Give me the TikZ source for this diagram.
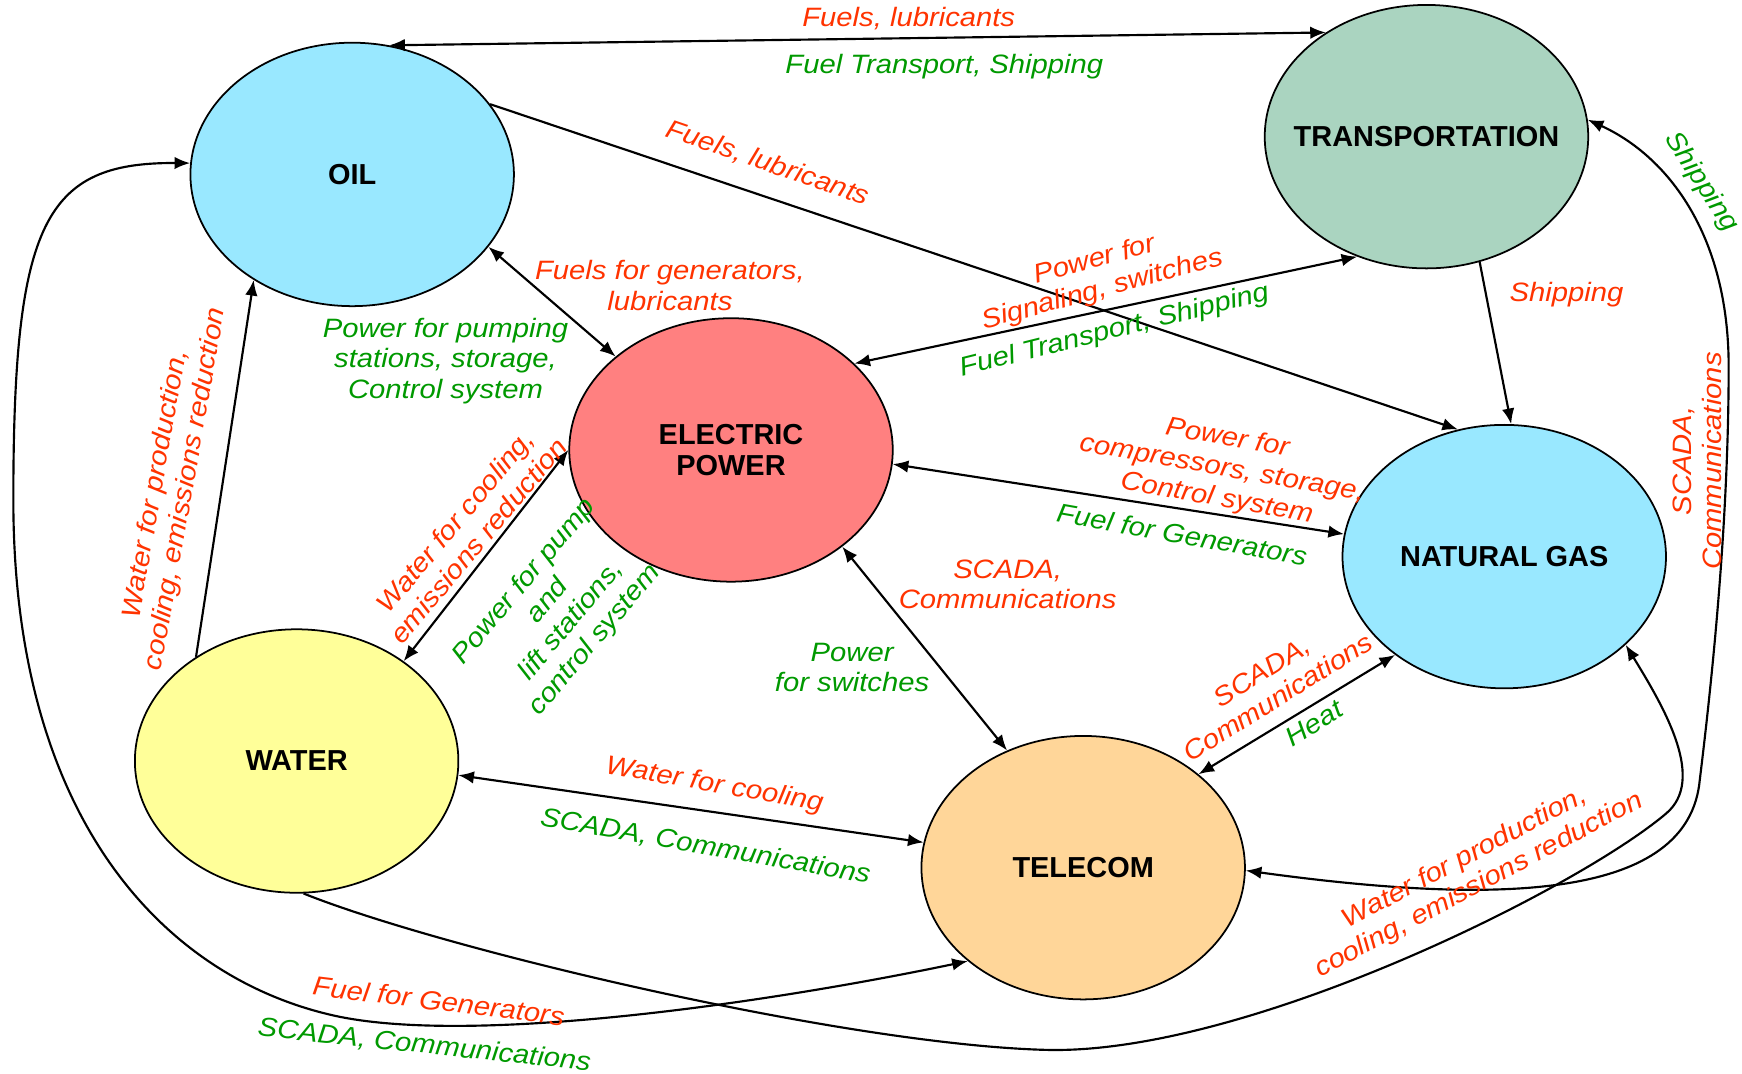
\documentclass[tikz,border=0pt]{standalone}
\usepackage{fontspec}
\setmainfont{Liberation Sans}
\usetikzlibrary{shapes.geometric,arrows.meta}

\definecolor{oilblue}{RGB}{153,232,255}
\definecolor{transgreen}{RGB}{170,212,192}
\definecolor{powerred}{RGB}{255,128,128}
\definecolor{wateryellow}{RGB}{255,255,153}
\definecolor{telecomorange}{RGB}{255,214,153}
\definecolor{labred}{RGB}{255,51,0}
\definecolor{labgreen}{RGB}{0,153,0}

\tikzset{
  sector/.style={ellipse, draw, line width=0.45pt, minimum width=2.91cm, minimum height=2.37cm,
    inner sep=0pt, align=center, font=\fontsize{7.4}{8}\selectfont\bfseries},
  redlab/.style={text=labred, inner sep=0pt, align=center, xscale=1.1,
    font=\fontsize{6.8}{7.8}\selectfont\itshape},
  greenlab/.style={redlab, text=labgreen},
}

\begin{document}
\begin{tikzpicture}[x=0.01cm, y=-0.01cm, line width=0.55pt, >={Latex[length=4pt,width=3.2pt]}]
\useasboundingbox (0,0) rectangle (1568,966);

\node[sector, fill=oilblue] (oil) at (317,157) {OIL};
\node[sector, fill=transgreen] (trans) at (1284,123) {\makebox[0pt]{TRANSPORTATION}};
\node[sector, fill=powerred] (power) at (658,405) {ELECTRIC\\POWER};
\node[sector, fill=oilblue] (gas) at (1354,501) {\makebox[0pt]{NATURAL GAS}};
\node[sector, fill=wateryellow] (water) at (267,685) {WATER};
\node[sector, fill=telecomorange] (telecom) at (975,781) {TELECOM};

\draw [<->] (oil.74) -- (trans.134);
\draw [->] (oil.27) -- (gas.110);
\draw [<->] (oil.-28) -- (power.141);
\draw [<->] (power.35) -- (trans.240);
\draw [->] (trans.293) -- (gas.87);
\draw [->] (water.134) -- (oil.227);
\draw [<->] (water.43) -- (power.180);
\draw [<->] (power.-5) -- (gas.172);
\draw [<->] (power.-41) -- (telecom.123);
\draw [<->] (water.-5) -- (telecom.171);
\draw [<->] (telecom.39) -- (gas.222);

\draw [<->] (telecom.-1) .. controls (1350,815) and (1520,810) .. (1530,702)
  .. controls (1545,580) and (1556,450) .. (1556,330)
  .. controls (1556,210) and (1500,140) .. (trans.6);
\draw [->] (water.-87) .. controls (400,855) and (760,940) .. (941,945)
  .. controls (1120,950) and (1420,800) .. (1500,732)
  .. controls (1535,702) and (1500,640) .. (gas.-36);
\draw [<->] (oil.176) .. controls (40,146) and (12,200) .. (12,450)
  .. controls (12,740) and (150,880) .. (300,914)
  .. controls (420,941) and (680,905) .. (telecom.219);

\node[redlab] (t1) at (818,17) {Fuels, lubricants};
\node[greenlab] (t2) at (850,60) {Fuel Transport, Shipping};
\node[rotate=-19, redlab] (t3) at (691,147) {Fuels, lubricants};
\node[redlab] (t4) at (603,257) {Fuels for generators,\\lubricants};
\node[greenlab] (t5) at (401,325) {Power for pumping\\stations, storage,\\Control system};
\node[rotate=15, redlab] (t6) at (989,248) {Power for\\Signaling, switches};
\node[rotate=14, greenlab] (t7) at (1003,298) {Fuel Transport, Shipping};
\node[redlab] (t8) at (1410,265) {Shipping};
\node[rotate=-57, greenlab] (t9) at (1531,164) {Shipping};
\node[rotate=90, redlab] (t10) at (1528,415) {SCADA,\\Communications};
\node[rotate=80, redlab] (t11) at (154,438) {Water for production,\\cooling, emissions reduction};
\node[rotate=50, redlab] (t12) at (420,478) {Water for cooling,\\emissions reduction};
\node[rotate=50, greenlab] (t13) at (504,550) {Power for pump\\and\\lift stations,\\control system};
\node[rotate=-10, redlab] (t14) at (1100,422) {Power for\\compressors, storage,\\Control system};
\node[rotate=-10, greenlab] (t15) at (1064,481) {Fuel for Generators};
\node[redlab] (t16) at (907,526) {SCADA,\\Communications};
\node[greenlab] (t17) at (767,601) {Power\\for switches};
\node[rotate=-10, redlab] (t18) at (643,707) {Water for cooling};
\node[rotate=-10, greenlab] (t19) at (635,762) {SCADA, Communications};
\node[rotate=32, redlab] (t20) at (1143,616) {SCADA,\\Communications};
\node[rotate=32, greenlab] (t21) at (1183,651) {Heat};
\node[rotate=-7, redlab] (t22) at (395,901) {Fuel for Generators};
\node[rotate=-6, greenlab] (t23) at (382,941) {SCADA, Communications};
\node[rotate=28, redlab] (t24) at (1325,785) {Water for production,\\cooling, emissions reduction};
\end{tikzpicture}
\end{document}
